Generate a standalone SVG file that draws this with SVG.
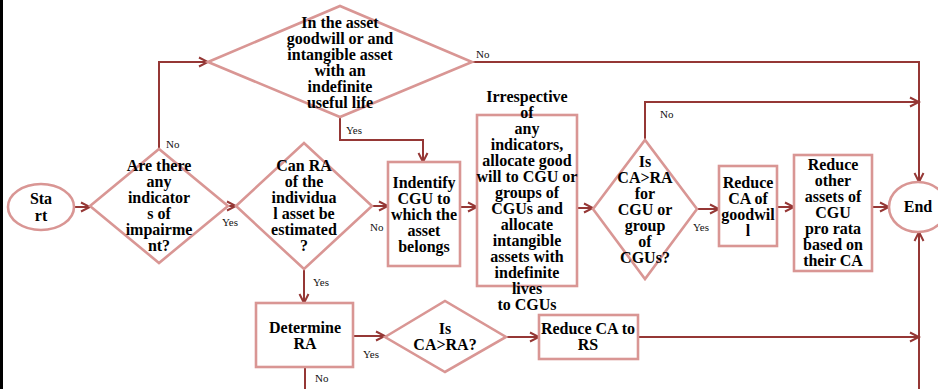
<svg xmlns="http://www.w3.org/2000/svg" width="938" height="389" viewBox="0 0 938 389" font-family="Liberation Serif, DejaVu Serif, serif">
<style>
.shape{fill:#fff;stroke:#D99694;stroke-width:2.6}
.t{font-family:'Liberation Serif','DejaVu Serif',serif;font-weight:bold;font-size:16px;fill:#000;text-anchor:middle}
.lbl{font-family:'Liberation Serif','DejaVu Serif',serif;font-size:11px;fill:#111}
.c{fill:none;stroke:#953735;stroke-width:2;marker-end:url(#arr)}
.cn{fill:none;stroke:#953735;stroke-width:2}
</style>
<defs>
<marker id="arr" markerUnits="userSpaceOnUse" markerWidth="12" markerHeight="12" refX="10" refY="6" orient="auto">
<path d="M1,1.5 L10,6 L1,10.5" fill="none" stroke="#953735" stroke-width="2"/>
</marker>
</defs>
<rect x="0" y="0" width="938" height="389" fill="#fff"/>
<line x1="1.5" y1="0" x2="1.5" y2="389" stroke="#000" stroke-width="3"/>
<g id="connectors">
<path class="c" d="M74,207 H90"/>
<path class="c" d="M228,206 H236"/>
<path class="c" d="M372,206 H388"/>
<path class="c" d="M460,207 H477"/>
<path class="c" d="M577,208 H593"/>
<path class="c" d="M697,209 H719"/>
<path class="c" d="M777,207 H794"/>
<path class="c" d="M872,207 H889"/>
<path class="c" d="M159,149 V62 H208"/>
<path class="c" d="M472,62 H919 V182"/>
<path class="c" d="M645,140 V102 H919"/>
<path class="c" d="M340,117 V140 H423 V162"/>
<path class="c" d="M304,269 V303"/>
<path class="c" d="M353,336 H385"/>
<path class="c" d="M506,337 H539"/>
<path class="c" d="M638,337 H919"/>
<path class="c" d="M919,389 V232"/>
<path class="cn" d="M305,367 V389"/>
<text class="lbl" x="166" y="148">No</text>
<text class="lbl" x="476" y="58">No</text>
<text class="lbl" x="346" y="134">Yes</text>
<text class="lbl" x="222" y="226">Yes</text>
<text class="lbl" x="370" y="231">No</text>
<text class="lbl" x="660" y="118">No</text>
<text class="lbl" x="693" y="231">Yes</text>
<text class="lbl" x="313" y="286">Yes</text>
<text class="lbl" x="363" y="358">Yes</text>
<text class="lbl" x="315" y="382">No</text>
</g>
<g id="start">
<ellipse class="shape" cx="41" cy="207" rx="33" ry="23"/>
<text class="t"><tspan x="41" y="204">Sta</tspan><tspan x="41" y="221">rt</tspan></text>
</g>
<g id="indicators">
<polygon class="shape" points="90,206 159,149 228,206 159,263"/>
<text class="t"><tspan x="159" y="171">Are there</tspan><tspan x="159" y="187">any</tspan><tspan x="159" y="203">indicator</tspan><tspan x="159" y="219">s of</tspan><tspan x="159" y="235">impairme</tspan><tspan x="159" y="251">nt?</tspan></text>
</g>
<g id="goodwill-question">
<polygon class="shape" points="208,62 340,6 472,62 340,117"/>
<text class="t"><tspan x="340" y="28">In the asset</tspan><tspan x="340" y="44">goodwill or and</tspan><tspan x="340" y="60">intangible asset</tspan><tspan x="340" y="76">with an</tspan><tspan x="340" y="92">indefinite</tspan><tspan x="340" y="108">useful  life</tspan></text>
</g>
<g id="can-ra">
<polygon class="shape" points="236,206 304,143 372,206 304,269"/>
<text class="t"><tspan x="304" y="171">Can RA</tspan><tspan x="304" y="187">of the</tspan><tspan x="304" y="203">individua</tspan><tspan x="304" y="219">l asset be</tspan><tspan x="304" y="235">estimated</tspan><tspan x="304" y="251">?</tspan></text>
</g>
<g id="identify-cgu">
<rect class="shape" x="388" y="162" width="72" height="104"/>
<text class="t"><tspan x="424" y="188">Indentify</tspan><tspan x="424" y="204">CGU to</tspan><tspan x="424" y="220">which the</tspan><tspan x="424" y="236">asset</tspan><tspan x="424" y="252">belongs</tspan></text>
</g>
<g id="allocate">
<rect class="shape" x="477" y="115" width="100" height="171"/>
<text class="t"><tspan x="527" y="102">Irrespective</tspan><tspan x="527" y="118">of</tspan><tspan x="527" y="134">any</tspan><tspan x="527" y="150">indicators,</tspan><tspan x="527" y="166">allocate good</tspan><tspan x="527" y="182">will to CGU or</tspan><tspan x="527" y="198">groups of</tspan><tspan x="527" y="214">CGUs and</tspan><tspan x="527" y="230">allocate</tspan><tspan x="527" y="246">intangible</tspan><tspan x="527" y="262">assets with</tspan><tspan x="527" y="278">indefinite</tspan><tspan x="527" y="294">lives</tspan><tspan x="527" y="310">to CGUs</tspan></text>
</g>
<g id="ca-ra-cgu">
<polygon class="shape" points="593,209 645,140 697,209 645,279"/>
<text class="t"><tspan x="645" y="167">Is</tspan><tspan x="645" y="183">CA&gt;RA</tspan><tspan x="645" y="199">for</tspan><tspan x="645" y="215">CGU or</tspan><tspan x="645" y="231">group</tspan><tspan x="645" y="247">of</tspan><tspan x="645" y="263">CGUs?</tspan></text>
</g>
<g id="reduce-goodwill">
<rect class="shape" x="719" y="166" width="58" height="80"/>
<text class="t"><tspan x="748" y="188">Reduce</tspan><tspan x="748" y="204">CA of</tspan><tspan x="748" y="220">goodwil</tspan><tspan x="748" y="236">l</tspan></text>
</g>
<g id="reduce-other">
<rect class="shape" x="794" y="155" width="78" height="116"/>
<text class="t"><tspan x="833" y="170">Reduce</tspan><tspan x="833" y="186">other</tspan><tspan x="833" y="202">assets of</tspan><tspan x="833" y="218">CGU</tspan><tspan x="833" y="234">pro rata</tspan><tspan x="833" y="250">based on</tspan><tspan x="833" y="266">their CA</tspan></text>
</g>
<g id="end">
<ellipse class="shape" cx="918" cy="207" rx="29" ry="25"/>
<text class="t" x="918" y="212">End</text>
</g>
<g id="determine-ra">
<rect class="shape" x="256" y="303" width="97" height="64"/>
<text class="t"><tspan x="305" y="333">Determine</tspan><tspan x="305" y="349">RA</tspan></text>
</g>
<g id="ca-ra">
<polygon class="shape" points="385,337 445,301 506,337 445,372"/>
<text class="t"><tspan x="445" y="334">Is</tspan><tspan x="445" y="350">CA&gt;RA?</tspan></text>
</g>
<g id="reduce-rs">
<rect class="shape" x="539" y="315" width="99" height="44"/>
<text class="t"><tspan x="588" y="334">Reduce CA to</tspan><tspan x="588" y="350">RS</tspan></text>
</g>
</svg>
